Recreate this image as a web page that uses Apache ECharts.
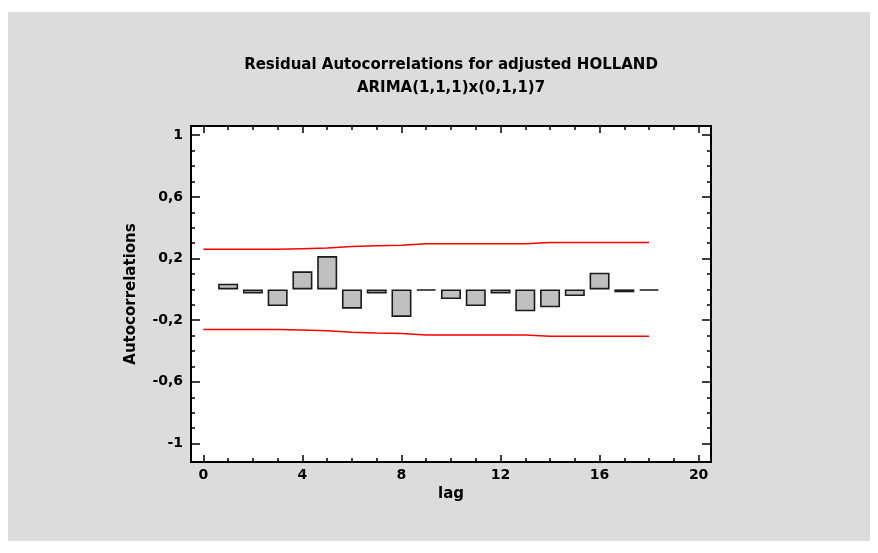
<!DOCTYPE html>
<html>
<head>
<meta charset="utf-8">
<script src="https://cdn.jsdelivr.net/npm/echarts@6/dist/echarts.min.js"></script>
<style>
html,body{margin:0;padding:0;background:#fff;}
#chart{width:878px;height:553px;}
</style>
</head>
<body>
<div id="chart"></div>
<script>
// ---- data ----
const titleLine1 = 'Residual Autocorrelations for adjusted HOLLAND';
const titleLine2 = 'ARIMA(1,1,1)x(0,1,1)7';
const xAxisName = 'lag';
const yAxisName = 'Autocorrelations';

const lags = [1,2,3,4,5,6,7,8,9,10,11,12,13,14,15,16,17,18];
const acf  = [0.037,-0.026,-0.108,0.117,0.216,-0.125,-0.026,-0.179,-0.008,-0.063,-0.108,-0.026,-0.142,-0.116,-0.043,0.108,-0.019,-0.008];

const limitLags  = [0,1,2,3,4,5,6,7,8,9,10,11,12,13,14,15,16,17,18];
const upperLimit = [0.26,0.26,0.26,0.26,0.264,0.268,0.278,0.283,0.287,0.296,0.296,0.296,0.296,0.296,0.304,0.304,0.304,0.304,0.304];
const lowerLimit = [-0.26,-0.26,-0.26,-0.26,-0.264,-0.268,-0.278,-0.283,-0.287,-0.296,-0.296,-0.296,-0.296,-0.296,-0.304,-0.304,-0.304,-0.304,-0.304];

const xMajorTicks = [0,4,8,12,16,20];
const xMinorTicks = [0,1,2,3,4,5,6,7,8,9,10,11,12,13,14,15,16,17,18,19,20];
const yMajorTicks = [-1,-0.6,-0.2,0.2,0.6,1];
const yMinorTicks = [-1,-0.9,-0.8,-0.7,-0.6,-0.5,-0.4,-0.3,-0.2,-0.1,0,0.1,0.2,0.3,0.4,0.5,0.6,0.7,0.8,0.9,1];

// ---- chart ----
const FONT = '"DejaVu Sans", "Liberation Sans", Arial, sans-serif';
const X_MIN = -0.5, X_MAX = 20.5, Y_MIN = -1.12, Y_MAX = 1.06;
const MAJOR_LEN = 7, MINOR_LEN = 4;
const tickStyle = {color:'#000', width:1.5};
const textStyle = {color:'#000', fontFamily:FONT, fontWeight:'bold', fontSize:14};
const nameStyle = {color:'#000', fontFamily:FONT, fontWeight:'bold', fontSize:15};

function xAx(position, ticks, len, withLabel) {
  const a = {
    type:'value', min:X_MIN, max:X_MAX, position:position,
    axisLine:{show:false, onZero:false}, splitLine:{show:false},
    axisTick:{show:true, inside:true, length:len, customValues:ticks, lineStyle:tickStyle},
    axisLabel:{show:false}
  };
  if (withLabel) {
    a.axisLabel = Object.assign({show:true, customValues:xMajorTicks, margin:6}, textStyle);
    a.name = xAxisName; a.nameLocation = 'middle'; a.nameGap = 25;
    a.nameTextStyle = Object.assign({}, nameStyle);
  }
  return a;
}
function yAx(position, ticks, len, withLabel) {
  const a = {
    type:'value', min:Y_MIN, max:Y_MAX, position:position,
    axisLine:{show:false, onZero:false}, splitLine:{show:false},
    axisTick:{show:true, inside:true, length:len, customValues:ticks, lineStyle:tickStyle},
    axisLabel:{show:false}
  };
  if (withLabel) {
    a.axisLabel = Object.assign({show:true, customValues:yMajorTicks, margin:8,
      formatter: v => String(Math.round(v*10)/10).replace('.', ',')}, textStyle);
    a.name = yAxisName; a.nameLocation = 'middle'; a.nameGap = 52;
    a.nameTextStyle = Object.assign({}, nameStyle);
  }
  return a;
}

const chart = echarts.init(document.getElementById('chart'), null, {renderer:'canvas'});
chart.setOption({
  animation:false,
  backgroundColor:'#ffffff',
  graphic:[{type:'rect', z:-10, silent:true, shape:{x:8, y:12, width:862, height:529}, style:{fill:'#dcdcdc'}}],
  title:{
    text: titleLine1 + '\n' + titleLine2,
    left: 451, top: 54, padding:0, textAlign:'center',
    textStyle:Object.assign({lineHeight:23}, nameStyle)
  },
  grid:{left:191, top:126, width:520, height:336, show:true, backgroundColor:'#ffffff', borderColor:'#000', borderWidth:2, containLabel:false},
  xAxis:[
    xAx('bottom', xMajorTicks, MAJOR_LEN, true),
    xAx('bottom', xMinorTicks, MINOR_LEN, false),
    xAx('top', xMajorTicks, MAJOR_LEN, false),
    xAx('top', xMinorTicks, MINOR_LEN, false)
  ],
  yAxis:[
    yAx('left', yMajorTicks, MAJOR_LEN+2, true),
    yAx('left', yMinorTicks, MINOR_LEN, false),
    yAx('right', yMajorTicks, MAJOR_LEN+2, false),
    yAx('right', yMinorTicks, MINOR_LEN, false)
  ],
  series:[
    {type:'line', name:'upper', xAxisIndex:0, yAxisIndex:0, data: limitLags.map((l,i)=>[l, upperLimit[i]]),
     symbol:'none', lineStyle:{color:'#ff0000', width:1.5}, z:2},
    {type:'line', name:'lower', xAxisIndex:0, yAxisIndex:0, data: limitLags.map((l,i)=>[l, lowerLimit[i]]),
     symbol:'none', lineStyle:{color:'#ff0000', width:1.5}, z:2},
    {type:'bar', name:'acf', xAxisIndex:0, yAxisIndex:0, data: lags.map((l,i)=>[l, acf[i]]),
     barWidth:20, itemStyle:{color:'#c0c0c0', borderColor:'#1a1a1a', borderWidth:1.6}, z:3}
  ]
});
</script>
</body>
</html>
